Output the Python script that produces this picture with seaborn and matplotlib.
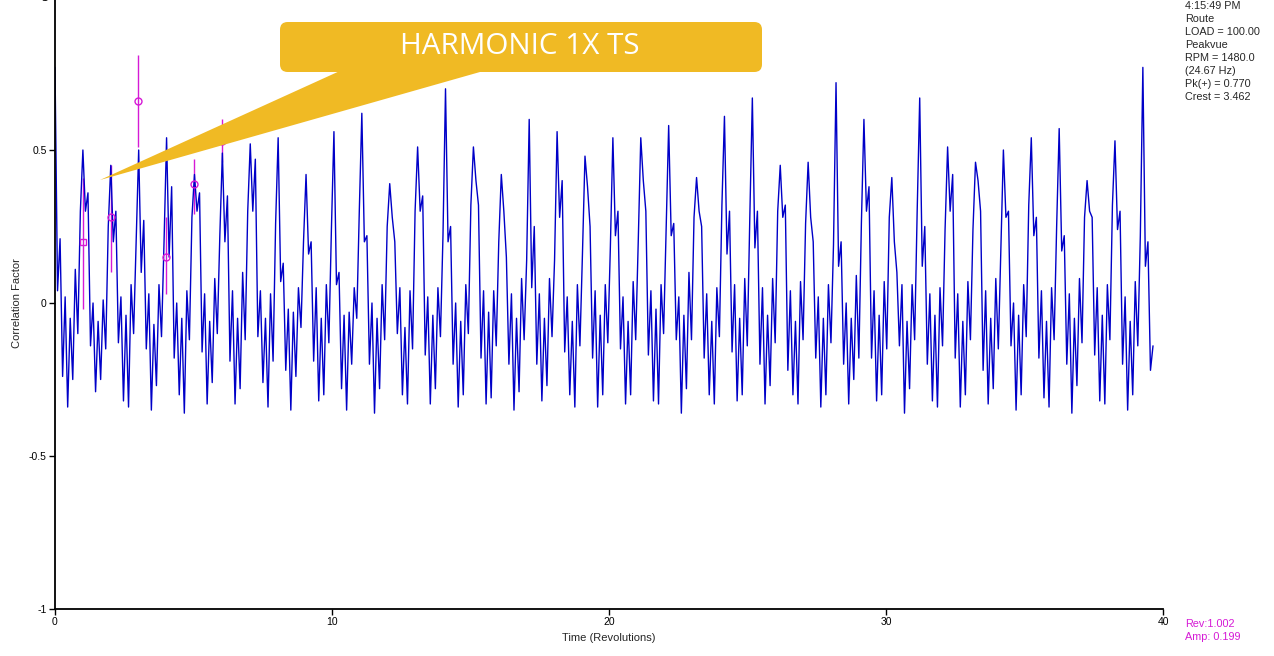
import numpy as np
import pandas as pd
import matplotlib
matplotlib.use("Agg")
import matplotlib.pyplot as plt
import matplotlib.patches as mpatches
import seaborn as sns

# waveform, one row per shaft revolution
# each row: main peak, dip, shoulder, then the small ripples up to the next peak
rev_rows = [
    [0.77, 0.04, 0.21, -0.24, 0.02, -0.34, -0.05, -0.25, 0.11, -0.10, 0.30],
    [0.50, 0.30, 0.36, -0.14, 0.00, -0.29, -0.06, -0.25, 0.01, -0.15, 0.25],
    [0.45, 0.20, 0.30, -0.13, 0.02, -0.32, -0.04, -0.34, 0.06, -0.10, 0.20],
    [0.50, 0.10, 0.27, -0.15, 0.03, -0.35, -0.07, -0.27, 0.06, -0.11, 0.20],
    [0.54, 0.15, 0.38, -0.18, 0.00, -0.30, -0.05, -0.36, 0.04, -0.12, 0.28],
    [0.42, 0.30, 0.36, -0.16, 0.03, -0.33, -0.06, -0.26, 0.08, -0.10, 0.22],
    [0.49, 0.20, 0.35, -0.19, 0.04, -0.33, -0.05, -0.28, 0.10, -0.12, 0.30],
    [0.52, 0.30, 0.47, -0.11, 0.04, -0.26, -0.05, -0.34, 0.03, -0.19, 0.26],
    [0.54, 0.07, 0.13, -0.22, -0.02, -0.35, -0.03, -0.24, 0.05, -0.08, 0.20],
    [0.42, 0.16, 0.20, -0.19, 0.05, -0.32, -0.05, -0.30, 0.06, -0.13, 0.24],
    [0.56, 0.06, 0.10, -0.28, -0.04, -0.35, -0.03, -0.20, 0.05, -0.05, 0.30],
    [0.62, 0.20, 0.22, -0.20, 0.00, -0.36, -0.05, -0.28, 0.06, -0.12, 0.25],
    [0.39, 0.28, 0.20, -0.10, 0.05, -0.30, -0.08, -0.33, 0.04, -0.15, 0.30],
    [0.51, 0.30, 0.35, -0.17, 0.02, -0.33, -0.04, -0.28, 0.05, -0.11, 0.22],
    [0.70, 0.20, 0.25, -0.20, 0.00, -0.34, -0.06, -0.30, 0.06, -0.10, 0.32],
    [0.51, 0.40, 0.32, -0.18, 0.04, -0.33, -0.03, -0.31, 0.04, -0.14, 0.20],
    [0.42, 0.30, 0.15, -0.20, 0.03, -0.35, -0.05, -0.29, 0.08, -0.12, 0.14],
    [0.60, 0.05, 0.25, -0.20, 0.03, -0.32, -0.05, -0.27, 0.08, -0.11, 0.14],
    [0.56, 0.28, 0.40, -0.16, 0.02, -0.30, -0.06, -0.34, 0.06, -0.14, 0.16],
    [0.48, 0.38, 0.25, -0.18, 0.04, -0.34, -0.04, -0.30, 0.06, -0.13, 0.18],
    [0.54, 0.22, 0.30, -0.15, 0.02, -0.33, -0.06, -0.30, 0.07, -0.12, 0.20],
    [0.54, 0.40, 0.30, -0.17, 0.04, -0.32, -0.02, -0.33, 0.06, -0.10, 0.24],
    [0.58, 0.22, 0.26, -0.12, 0.02, -0.36, -0.04, -0.28, 0.10, -0.12, 0.28],
    [0.41, 0.30, 0.25, -0.18, 0.03, -0.30, -0.06, -0.33, 0.05, -0.11, 0.32],
    [0.61, 0.16, 0.30, -0.16, 0.06, -0.32, -0.05, -0.30, 0.08, -0.14, 0.28],
    [0.67, 0.18, 0.30, -0.20, 0.05, -0.33, -0.04, -0.27, 0.08, -0.13, 0.30],
    [0.45, 0.28, 0.32, -0.22, 0.04, -0.30, -0.06, -0.33, 0.07, -0.12, 0.26],
    [0.46, 0.28, 0.20, -0.18, 0.02, -0.34, -0.05, -0.30, 0.06, -0.13, 0.19],
    [0.72, 0.12, 0.20, -0.20, 0.00, -0.33, -0.05, -0.25, 0.09, -0.18, 0.26],
    [0.60, 0.30, 0.38, -0.18, 0.04, -0.32, -0.04, -0.30, 0.07, -0.15, 0.28],
    [0.41, 0.20, 0.10, -0.14, 0.06, -0.36, -0.06, -0.28, 0.06, -0.12, 0.30],
    [0.67, 0.12, 0.25, -0.20, 0.03, -0.32, -0.04, -0.34, 0.05, -0.14, 0.24],
    [0.51, 0.30, 0.42, -0.18, 0.03, -0.34, -0.06, -0.30, 0.07, -0.12, 0.24],
    [0.46, 0.40, 0.30, -0.22, 0.04, -0.33, -0.05, -0.28, 0.08, -0.15, 0.18],
    [0.50, 0.28, 0.30, -0.14, 0.00, -0.35, -0.04, -0.30, 0.06, -0.11, 0.32],
    [0.54, 0.22, 0.28, -0.18, 0.04, -0.31, -0.06, -0.34, 0.05, -0.12, 0.25],
    [0.57, 0.17, 0.22, -0.20, 0.03, -0.36, -0.05, -0.27, 0.08, -0.13, 0.28],
    [0.40, 0.30, 0.28, -0.17, 0.05, -0.32, -0.04, -0.33, 0.06, -0.12, 0.32],
    [0.53, 0.24, 0.30, -0.20, 0.02, -0.35, -0.06, -0.30, 0.07, -0.14, 0.22],
    [0.77, 0.12, 0.20, -0.22, -0.14],
]
rev_period = 1.007      # one shaft turn on the time axis
pts_per_rev = 11

# harmonic cursor (1x .. 6x)
harm_rev = [1.002, 2.004, 3.006, 4.008, 5.010, 6.012]
harm_amp = [0.199, 0.28, 0.66, 0.15, 0.39, 0.53]
harm_lo = [-0.02, 0.10, 0.51, 0.03, 0.29, 0.46]
harm_hi = [0.41, 0.45, 0.81, 0.28, 0.47, 0.60]

info_lines = ["4:15:49 PM", "Route", "LOAD = 100.00", "Peakvue",
              "RPM = 1480.0", "(24.67 Hz)", "Pk(+) = 0.770", "Crest = 3.462"]
cursor_lines = ["Rev:1.002", "Amp: 0.199"]

vals = [v for row in rev_rows for v in row]
t = np.arange(len(vals)) * rev_period / pts_per_rev
wave = pd.DataFrame({"Time (Revolutions)": t, "Correlation Factor": vals})

sns.set_style("ticks")
plt.rcParams['font.family'] = ['Liberation Sans', 'DejaVu Sans']
plt.rcParams['axes.unicode_minus'] = False

W, H = 1274, 656
fig = plt.figure(figsize=(W/100, H/100), dpi=100)
ax = fig.add_axes([55/W, 47/H, 1108/W, 612/H])

magenta = '#d61ad6'
ax.vlines(harm_rev, harm_lo, harm_hi, color=magenta, lw=1, zorder=1)
sns.lineplot(data=wave, x="Time (Revolutions)", y="Correlation Factor",
             color='#0000c8', lw=1.0, ax=ax, zorder=2)
ax.plot(harm_rev[:1], harm_amp[:1], ls='none', marker='s', ms=5, mfc='none',
        mec=magenta, mew=1, zorder=3)
ax.plot(harm_rev[1:], harm_amp[1:], ls='none', marker='o', ms=5, mfc='none',
        mec=magenta, mew=1, zorder=3)

ax.set_xlim(0, 40)
ax.set_ylim(-1, 1)
ax.set_xticks([0, 10, 20, 30, 40])
ax.set_yticks([-1, -0.5, 0, 0.5, 1])
ax.set_yticklabels(["-1", "-0.5", "0", "0.5", "1"])
ax.tick_params(labelsize=7.5, length=4, width=1, colors='black', pad=2)
ax.set_xlabel("Time (Revolutions)", fontsize=8, labelpad=4)
ax.set_ylabel("Correlation Factor", fontsize=8, labelpad=5)
sns.despine(ax=ax)
for s in ['left', 'bottom']:
    ax.spines[s].set_linewidth(1.3)
    ax.spines[s].set_color('black')

# readout text on the right
for i, line in enumerate(info_lines):
    fig.text(1185/W, 1 - (6 + 13*i)/H, line, fontsize=7.8, va='center', ha='left')
for i, line in enumerate(cursor_lines):
    fig.text(1185/W, 1 - (624 + 13*i)/H, line, fontsize=7.8, va='center',
             ha='left', color=magenta)

# yellow callout
gold = '#f0ba24'
bubble = mpatches.FancyBboxPatch((280/W, 1 - 72/H), 482/W, 50/H,
                                 boxstyle="round,pad=0,rounding_size=0.006",
                                 mutation_aspect=W/H, transform=fig.transFigure,
                                 fc=gold, ec='none', zorder=5)
fig.add_artist(bubble)
wedge = mpatches.Polygon([(100/W, 1 - 180/H), (342/W, 1 - 70/H), (487/W, 1 - 70/H)],
                         closed=True, transform=fig.transFigure,
                         fc=gold, ec='none', zorder=5)
fig.add_artist(wedge)
fig.text(520/W, 1 - 47/H, "HARMONIC 1X TS", fontsize=21.3, color='white',
         ha='center', va='center', family=['Open Sans', 'DejaVu Sans'], zorder=6)

fig.savefig("out.png", dpi=100)
